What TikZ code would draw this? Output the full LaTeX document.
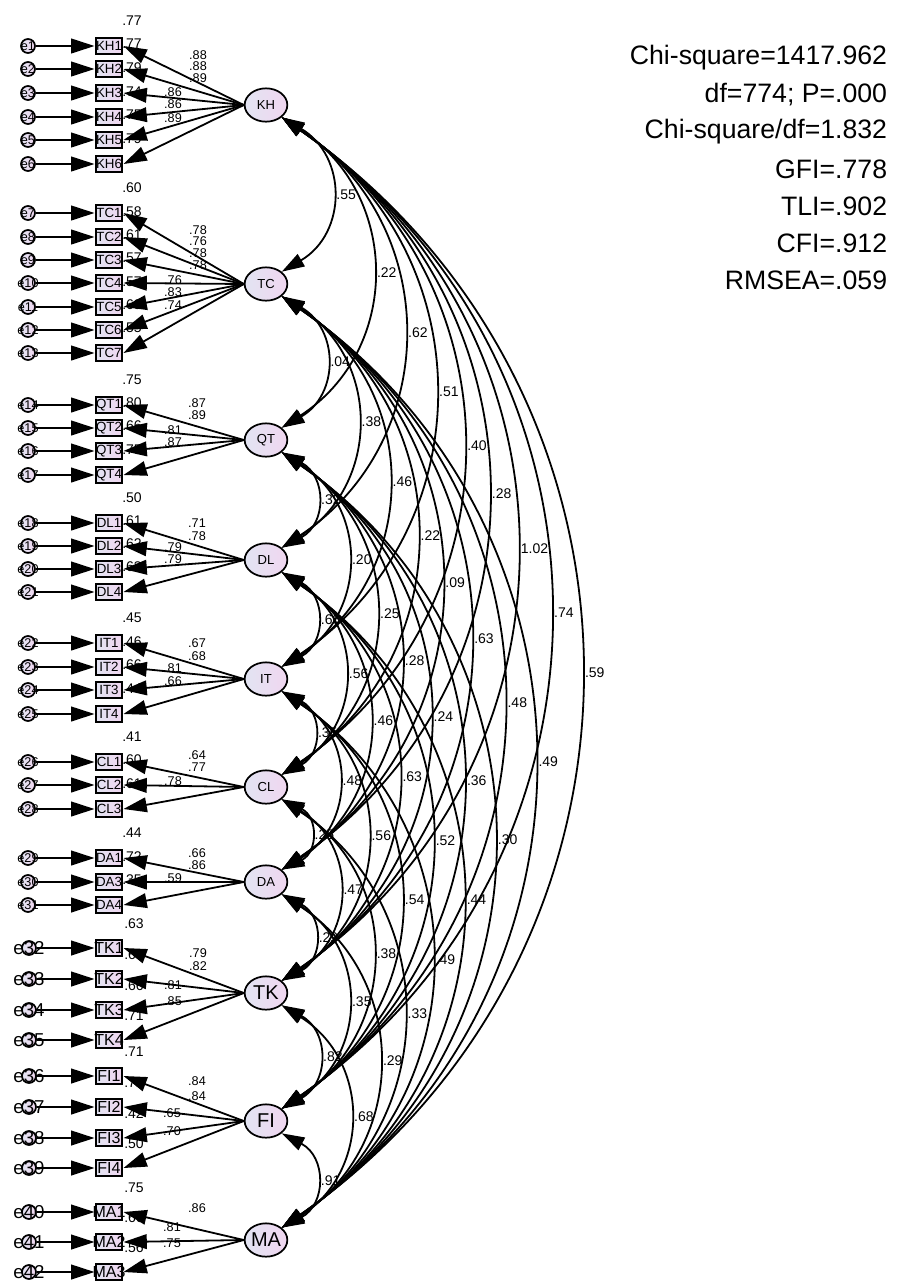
\documentclass[tikz,border=0pt]{standalone}
\usepackage{fontspec}
\setmainfont{Liberation Sans}
\usepackage{xcolor}
\usetikzlibrary{arrows.meta,shapes.geometric,calc}

\definecolor{lavleft}{HTML}{E2E4F2}
\definecolor{lavright}{HTML}{F0D6F0}

\begin{document}
\begin{tikzpicture}[x=0.75pt,y=-0.75pt,line width=1.35pt]
  % Define the styles (units are pixels of the 898x1286 page)
  \tikzset{tip/.style={-{Triangle[length=17.5pt,width=11pt]}}}
  \tikzset{twotip/.style={{Triangle[length=17pt,width=10.5pt]}-{Triangle[length=17pt,width=10.5pt]}}}
  \tikzset{latent/.style={ellipse, draw, line width=1.3pt, left color=lavleft, right color=lavright, minimum width=32pt, minimum height=25pt, inner sep=0pt, font=\fontsize{9.8}{10}\selectfont}}
  \tikzset{latentbig/.style={latent, font=\fontsize{15}{16}\selectfont}}
  \tikzset{obsbox/.style={rectangle, draw, line width=1.7pt, left color=lavleft, right color=lavright, minimum width=20pt, minimum height=12.5pt, inner sep=0pt}}
  \tikzset{errcirc/.style={circle, draw, line width=1.3pt, left color=lavleft, right color=lavright, minimum size=10.5pt, inner sep=0pt}}
  \tikzset{boxtext/.style={font=\fontsize{10}{10}\selectfont, inner sep=0pt}}
  \tikzset{boxtextbig/.style={font=\fontsize{12}{12}\selectfont, inner sep=0pt}}
  \tikzset{errtext/.style={font=\fontsize{9.5}{10}\selectfont, inner sep=0pt}}
  \tikzset{errtextbig/.style={font=\fontsize{14}{14}\selectfont, inner sep=0pt}}
  \tikzset{rsq/.style={font=\fontsize{10.5}{11}\selectfont, inner sep=0pt}}
  \tikzset{loadlab/.style={font=\fontsize{9.5}{10}\selectfont, inner sep=0pt}}
  \tikzset{covlab/.style={font=\fontsize{10.5}{11}\selectfont, inner sep=0pt, anchor=west, xshift=3.5pt}}
  \tikzset{fittext/.style={font=\fontsize{20}{22}\selectfont, inner sep=0pt, anchor=east}}

  \useasboundingbox (0,0) rectangle (898,1286);

  % Define the latent factors
  \foreach \fc/\yy in {KH/105, TC/284, QT/440, DL/560, IT/679, CL/787, DA/882}
    \node[latent] (\fc) at (266,\yy) {\fc};
  \foreach \fc/\yy in {TK/993, FI/1121, MA/1240}
    \node[latentbig] (\fc) at (266,\yy) {\fc};

  % Draw the indicators, their errors and R-squares
  \foreach \nm/\yy/\rr/\ee/\fc in {KH1/46/.77/e1/KH, KH2/69/.77/e2/KH, KH3/93/.79/e3/KH, KH4/117/.74/e4/KH, KH5/140/.75/e5/KH, KH6/164/.79/e6/KH,
      TC1/213/.60/e7/TC, TC2/237/.58/e8/TC, TC3/260/.61/e9/TC, TC4/283/.57/e10/TC, TC5/307/.57/e11/TC, TC6/330/.69/e12/TC, TC7/353/.55/e13/TC,
      QT1/405/.75/e14/QT, QT2/428/.80/e15/QT, QT3/451/.66/e16/QT, QT4/475/.75/e17/QT,
      DL1/523/.50/e18/DL, DL2/546/.61/e19/DL, DL3/569/.62/e20/DL, DL4/592/.63/e21/DL,
      IT1/643/.45/e22/IT, IT2/667/.46/e23/IT, IT3/690/.66/e24/IT, IT4/714/.44/e25/IT,
      CL1/762/.41/e26/CL, CL2/785/.60/e27/CL, CL3/809/.61/e28/CL,
      DA1/858/.44/e29/DA, DA3/882/.72/e30/DA, DA4/905/.35/e31/DA}{
    \node[obsbox, label={[boxtext]center:\nm}] (\nm) at (109,\yy) {};
    \node[errcirc, label={[errtext]center:\ee}] (\ee) at (28,\yy) {};
    \node[rsq] (r-\nm) at (132,\yy-25) {\rr};
    \draw[tip] (\ee) -- (\nm);
    \draw[tip] (\fc.west) -- (\nm.east);
  }
  \foreach \nm/\yy/\rr/\ee/\fc in {TK1/948/.63/e32/TK, TK2/979/.67/e33/TK, TK3/1010/.66/e34/TK, TK4/1040/.71/e35/TK,
      FI1/1076/.71/e36/FI, FI2/1107/.71/e37/FI, FI3/1138/.42/e38/FI, FI4/1168/.50/e39/FI,
      MA1/1212/.75/e40/MA, MA2/1242/.66/e41/MA, MA3/1272/.56/e42/MA}{
    \node[obsbox, label={[boxtextbig]center:\nm}] (\nm) at (109,\yy) {};
    \node[errcirc, label={[errtextbig]center:\ee}] (\ee) at (29,\yy) {};
    \node[rsq] (r-\nm) at (134,\yy-24) {\rr};
    \draw[tip] (\ee) -- (\nm);
    \draw[tip] (\fc.west) -- (\nm.east);
  }

  % Loadings
  \foreach \xx/\yy/\vv [count=\k] in {198/55/.88, 198/66/.88, 198/78/.89, 173/92/.86, 173/104/.86, 173/118/.89,
      198/230/.78, 198/241/.76, 198/253/.78, 198/265/.78, 173/280/.76, 173/292/.83, 173/305/.74,
      197/403/.87, 197/415/.89, 173/430/.81, 173/442/.87,
      197/523/.71, 197/536/.78, 173/547/.79, 173/559/.79,
      197/643/.67, 197/656/.68, 173/668/.81, 173/681/.66,
      197/755/.64, 197/767/.77, 173/781/.78,
      197/853/.66, 197/865/.86, 173/878/.59,
      198/953/.79, 198/966/.82, 173/985/.81, 173/1001/.85,
      197/1081/.84, 197/1096/.84, 172/1113/.65, 172/1131/.70,
      197/1208/.86, 172/1227/.81, 172/1243/.75}
    \node[loadlab] (ld\k) at (\xx,\yy) {\vv};

  % Covariances between the factors
  \foreach \a/\b/\v in {KH/TC/.55, KH/QT/.22, KH/DL/.62, KH/IT/.51, KH/CL/.40, KH/DA/.28, KH/TK/1.02, KH/FI/.74, KH/MA/.59,
      TC/QT/.04, TC/DL/.38, TC/IT/.46, TC/CL/.22, TC/DA/.09, TC/TK/.63, TC/FI/.48, TC/MA/.49,
      QT/DL/.32, QT/IT/.20, QT/CL/.25, QT/DA/.28, QT/TK/.24, QT/FI/.36, QT/MA/.30,
      DL/IT/.60, DL/CL/.56, DL/DA/.46, DL/TK/.63, DL/FI/.52, DL/MA/.44,
      IT/CL/.35, IT/DA/.48, IT/TK/.56, IT/FI/.54, IT/MA/.49,
      CL/DA/.25, CL/TK/.47, CL/FI/.38, CL/MA/.33,
      DA/TK/.29, DA/FI/.35, DA/MA/.29,
      TK/FI/.82, TK/MA/.68,
      FI/MA/.91}
    \draw[twotip] let \p1=(\a.-38), \p2=(\b.38), \n1={veclen(\x2-\x1,\y2-\y1)} in
      (\p1) .. controls ([shift={(0.3467*\n1+9pt,-0.25*\n1)}]\p1) and ([shift={(0.3467*\n1+9pt,0.25*\n1)}]\p2)
      .. node[covlab,pos=.5] (c-\a-\b) {\v} (\p2);

  % Fit indices
  \foreach \txt [count=\k] in {Chi-square=1417.962, df=774; P=.000, Chi-square/df=1.832, GFI=.778, TLI=.902, CFI=.912, RMSEA=.059}
    \node[fittext] (fit\k) at (888,21+37*\k) {\txt};
\end{tikzpicture}
\end{document}
